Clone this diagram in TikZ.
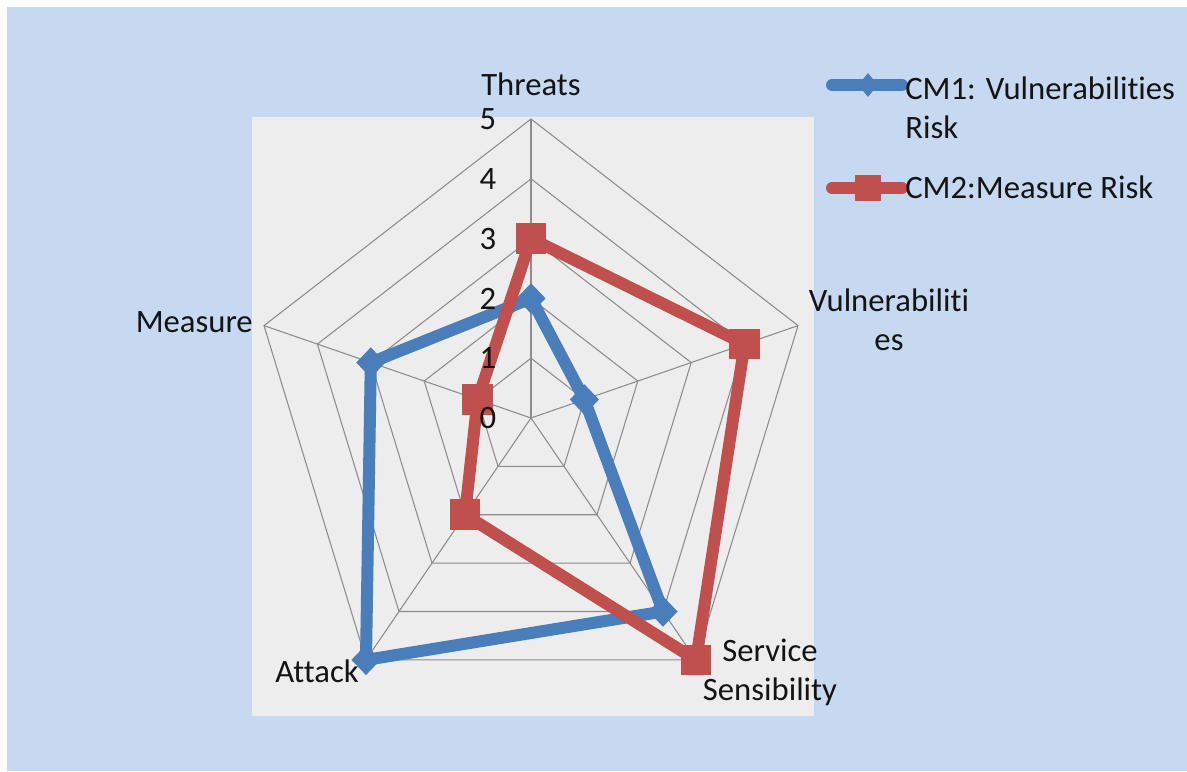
\documentclass[tikz,border=0pt]{standalone}
\usepackage{fontspec}
\setmainfont[Ligatures={NoCommon}]{Carlito}
\usetikzlibrary{shapes.geometric}
\definecolor{bgblue}{HTML}{C6D9F1}
\definecolor{plotgray}{HTML}{EDEDED}
\definecolor{gridgray}{HTML}{8C8C8C}
\definecolor{cmblue}{HTML}{4A7EBB}
\definecolor{cmred}{HTML}{C0504D}
\definecolor{txt}{HTML}{141414}
\begin{document}
\begin{tikzpicture}[x=0.75pt,y=-0.75pt,
  lbl/.style={font=\fontsize{24.5}{29}\selectfont, text=txt, inner sep=0pt},
  gridline/.style={draw=gridgray, line width=0.8pt},
  series/.style={line width=9pt, line join=miter, miter limit=2},
  bluemark/.style={diamond, fill=cmblue, inner sep=0pt, minimum width=22pt, minimum height=23pt},
  redmark/.style={rectangle, fill=cmred, inner sep=0pt, minimum size=23pt}]
\useasboundingbox (0,0) rectangle (1187,771);
\fill[white] (0,0) rectangle (1187,771);
\fill[bgblue] (7,7) rectangle (1187,771);
\fill[plotgray] (252,117) rectangle (814,716);
% grid
\coordinate (O) at (531,418);
\foreach \i/\a in {1/90,2/18,3/-54,4/-126,5/162}{
  \foreach \k in {1,...,5}{
    \coordinate (g\k-\i) at ({531+56.15*\k*cos(\a)},{418-59.8*\k*sin(\a)});
  }
}
\foreach \k in {1,...,5}{
  \draw[gridline] (g\k-1) -- (g\k-2) -- (g\k-3) -- (g\k-4) -- (g\k-5) -- cycle;
}
\foreach \i in {1,...,5}{
  \draw[gridline] (O) -- (g5-\i);
}
% axis labels
\node[lbl, anchor=base] (threats) at (531,95) {Threats};
\node[lbl, anchor=base, align=center] (vuln) at (889,350) {Vulnerabiliti\\es};
\node[lbl, anchor=base, align=center] (serv) at (770,700) {Service\\Sensibility};
\node[lbl, anchor=base west] (attack) at (275,682) {Attack};
\node[lbl, anchor=base east] (measure) at (253,332) {Measure};
% data points
\foreach \i/\a/\b/\r in {1/90/2/3,2/18/1/4,3/-54/4/5,4/-126/5/2,5/162/3/1}{
  \coordinate (b\i) at ({531+56.15*\b*cos(\a)},{418-59.8*\b*sin(\a)});
  \coordinate (r\i) at ({531+56.15*\r*cos(\a)},{418-59.8*\r*sin(\a)});
}
\draw[series, cmblue] (b1) -- (b2) -- (b3) -- (b4) -- (b5) -- cycle;
\foreach \i in {1,...,5}{ \node[bluemark] (bm\i) at (b\i) {}; }
\draw[series, cmred] (r1) -- (r2) -- (r3) -- (r4) -- (r5) -- cycle;
\foreach \i in {1,...,5}{ \node[redmark] (rm\i) at (r\i) {}; }
% tick labels
\foreach \k in {0,...,5}{
  \node[lbl] (t\k) at (488,{418-59.8*\k}) {\k};
}
% legend
\coordinate (l1a) at (832,85); \coordinate (l1b) at (902,85);
\coordinate (l2a) at (832,188); \coordinate (l2b) at (902,188);
\draw[cmblue, line width=9pt, line cap=round] (l1a) -- (l1b);
\node[bluemark, minimum width=15pt, minimum height=18pt] (lm1) at (868,85) {};
\draw[cmred, line width=9pt, line cap=round] (l2a) -- (l2b);
\node[redmark, minimum size=19pt] (lm2) at (868,188) {};
\node[lbl, anchor=base west, align=left] (leg1) at (905,138) {CM1: Vulnerabilities\\Risk};
\node[lbl, anchor=base west] (leg2) at (905,198) {CM2:Measure Risk};
\end{tikzpicture}
\end{document}
